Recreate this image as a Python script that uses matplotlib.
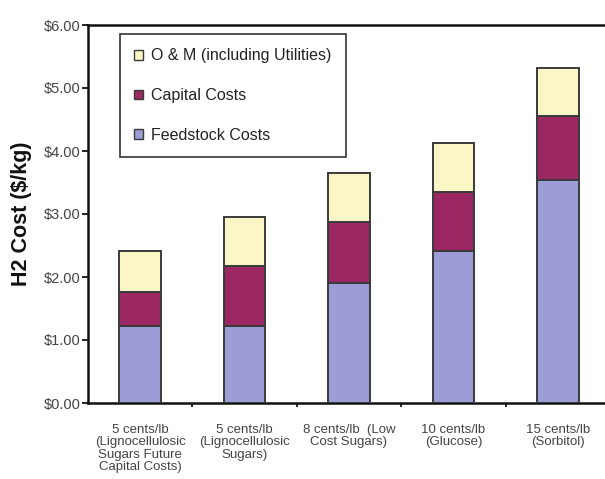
import numpy as np
import matplotlib.pyplot as plt
from matplotlib.patches import Patch
from matplotlib.ticker import FixedLocator

labels = ['5 cents/lb\n(Lignocellulosic\nSugars Future\nCapital Costs)',
          '5 cents/lb\n(Lignocellulosic\nSugars)',
          '8 cents/lb  (Low\nCost Sugars)',
          '10 cents/lb\n(Glucose)',
          '15 cents/lb\n(Sorbitol)']
feedstock = [1.22, 1.22, 1.90, 2.41, 3.54]
capital = [0.54, 0.95, 0.97, 0.94, 1.02]
om = [0.65, 0.78, 0.78, 0.78, 0.76]
yticks = [0, 1, 2, 3, 4, 5, 6]

c_feed = '#9c9cd6'
c_cap = '#9b2862'
c_om = '#fbf6c6'
edge = '#3a3a3a'

font = 'Liberation Sans'

fig = plt.figure(figsize=(6.05, 4.79), dpi=100)
ax = fig.add_axes([88/605, 1 - 403/479, (610 - 88)/605, (403 - 25)/479])

x = np.arange(len(labels))
w = 0.4
feedstock = np.array(feedstock)
capital = np.array(capital)
om = np.array(om)
ax.bar(x, feedstock, w, color=c_feed, edgecolor=edge, linewidth=1.4, zorder=3)
ax.bar(x, capital, w, bottom=feedstock, color=c_cap, edgecolor=edge, linewidth=1.4, zorder=3)
ax.bar(x, om, w, bottom=feedstock + capital, color=c_om, edgecolor=edge, linewidth=1.4, zorder=3)

ax.set_xlim(-0.5, len(labels) - 0.5)
ax.set_ylim(0, 6)

ax.set_yticks(yticks)
ax.set_yticklabels(['$%.2f' % v for v in yticks], family=font, fontsize=10.5, color='#444444')
ax.tick_params(axis='y', direction='out', length=4, width=1.2, pad=1.5)

ax.set_xticks(x)
ax.set_xticklabels(labels, family=font, fontsize=9.5, color='#444444', linespacing=1.05)
ax.tick_params(axis='x', which='major', length=0, pad=15)
ax.xaxis.set_minor_locator(FixedLocator(x[1:] - 0.5))
ax.tick_params(axis='x', which='minor', direction='out', length=3, width=1.2)

for s in ['left', 'bottom', 'top']:
    ax.spines[s].set_linewidth(1.8)
    ax.spines[s].set_color('#111111')
ax.spines['right'].set_visible(False)

ax.set_ylabel('H2 Cost ($/kg)', fontsize=15.5, fontweight='bold', color='#111111',
              family=font, labelpad=8)

handles = [Patch(facecolor=c_om, edgecolor=edge, label='O & M (including Utilities)'),
           Patch(facecolor=c_cap, edgecolor=edge, label='Capital Costs'),
           Patch(facecolor=c_feed, edgecolor=edge, label='Feedstock Costs')]
leg = ax.legend(handles=handles, loc='upper left',
                bbox_to_anchor=(120/605, 1 - 34/479), bbox_transform=fig.transFigure,
                prop={'family': font, 'size': 11.5},
                fancybox=False, framealpha=1, edgecolor='#333333',
                handlelength=0.55, handleheight=0.55, handletextpad=0.5,
                labelspacing=1.55, borderpad=0.9, borderaxespad=0)
leg.get_frame().set_linewidth(1.2)
for t in leg.get_texts():
    t.set_color('#222222')

fig.savefig('out.png', dpi=100)
